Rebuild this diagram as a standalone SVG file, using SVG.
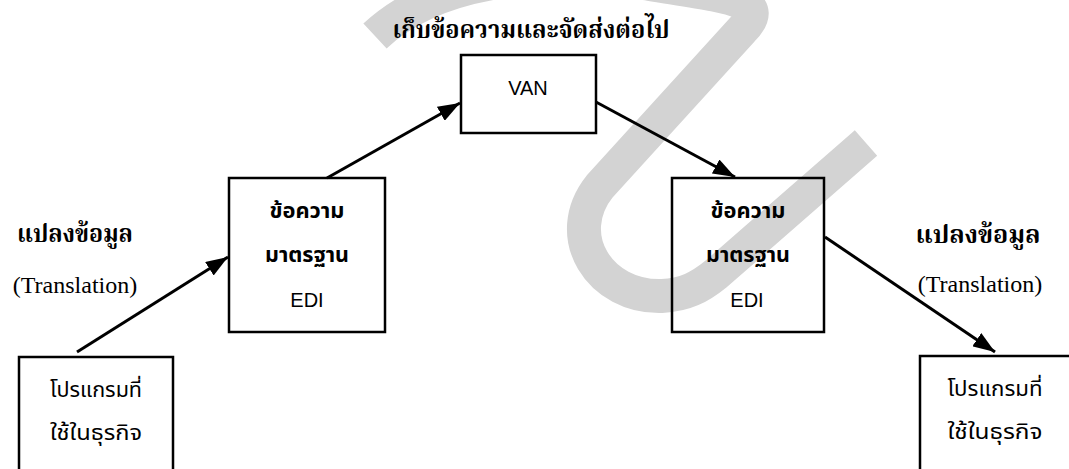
<svg xmlns="http://www.w3.org/2000/svg" width="1069" height="469" viewBox="0 0 1069 469">
<defs>
<style>
.bx{fill:none;stroke:#000;stroke-width:2.5}
.cn{fill:none;stroke:#000;stroke-width:3}
.th{font-family:"Noto Sans Thai","Noto Sans","DejaVu Sans",sans-serif;font-size:21px;fill:#000;text-anchor:middle}
.tk{font-weight:bold}
.tb{font-family:"Noto Serif Thai","Noto Sans Thai","Liberation Serif",serif;font-size:24px;font-weight:bold;fill:#000;text-anchor:middle}
.en{font-family:"Liberation Sans",Arial,sans-serif;font-size:20px;fill:#000;text-anchor:middle}
.tr{font-family:"Liberation Serif","Times New Roman",serif;font-size:24px;fill:#000;text-anchor:middle}
</style>
<marker id="ah" markerUnits="userSpaceOnUse" markerWidth="22" markerHeight="16" refX="22" refY="8" orient="auto">
<path d="M0,0 L22,8 L0,16 z" fill="#000"/>
</marker>
</defs>
<rect width="1069" height="469" fill="#fff"/>
<path id="watermark" d="M375,36 C440,-25 560,-32 650,-16 C730,-3 772,0 742,30 L600,186 C560,236 600,298 662,296 C685,295 700,287 716,274 L866,143" fill="none" stroke="#d3d3d3" stroke-width="34"/>
<g id="connectors">
<line class="cn" x1="77" y1="352" x2="228" y2="257" marker-end="url(#ah)"/>
<line class="cn" x1="327" y1="178" x2="460" y2="103" marker-end="url(#ah)"/>
<line class="cn" x1="596" y1="102" x2="735" y2="177" marker-end="url(#ah)"/>
<line class="cn" x1="825" y1="237" x2="995" y2="352" marker-end="url(#ah)"/>
</g>
<g id="app-left">
<rect class="bx" x="19" y="357" width="154" height="130"/>
<text class="th" x="96" y="397" textLength="92" lengthAdjust="spacingAndGlyphs">โปรแกรมที่</text>
<text class="th" x="96" y="440" textLength="92" lengthAdjust="spacingAndGlyphs">ใช้ในธุรกิจ</text>
</g>
<g id="edi-left">
<rect class="bx" x="229" y="178" width="156" height="154"/>
<text class="th tk" x="307" y="218" textLength="75" lengthAdjust="spacingAndGlyphs">ข้อความ</text>
<text class="th tk" x="307" y="262" textLength="84" lengthAdjust="spacingAndGlyphs">มาตรฐาน</text>
<text class="en" x="307" y="307">EDI</text>
</g>
<g id="van">
<rect class="bx" x="461" y="55" width="135" height="78"/>
<text class="en" x="528" y="95">VAN</text>
</g>
<g id="edi-right">
<rect class="bx" x="672" y="178" width="152" height="154"/>
<text class="th tk" x="748" y="218" textLength="75" lengthAdjust="spacingAndGlyphs">ข้อความ</text>
<text class="th tk" x="748" y="262" textLength="84" lengthAdjust="spacingAndGlyphs">มาตรฐาน</text>
<text class="en" x="747" y="307">EDI</text>
</g>
<g id="app-right">
<rect class="bx" x="920" y="356" width="152" height="130"/>
<text class="th" x="995" y="396" textLength="95" lengthAdjust="spacingAndGlyphs">โปรแกรมที่</text>
<text class="th" x="995" y="439" textLength="95" lengthAdjust="spacingAndGlyphs">ใช้ในธุรกิจ</text>
</g>
<g id="labels">
<text class="tb" x="531" y="38" textLength="277" lengthAdjust="spacingAndGlyphs">เก็บข้อความและจัดส่งต่อไป</text>
<text class="tb" x="75" y="242" textLength="116" lengthAdjust="spacingAndGlyphs">แปลงข้อมูล</text>
<text class="tr" x="75" y="293">(Translation)</text>
<text class="tb" x="978" y="243" textLength="125" lengthAdjust="spacingAndGlyphs">แปลงข้อมูล</text>
<text class="tr" x="980" y="292">(Translation)</text>
</g>
</svg>
